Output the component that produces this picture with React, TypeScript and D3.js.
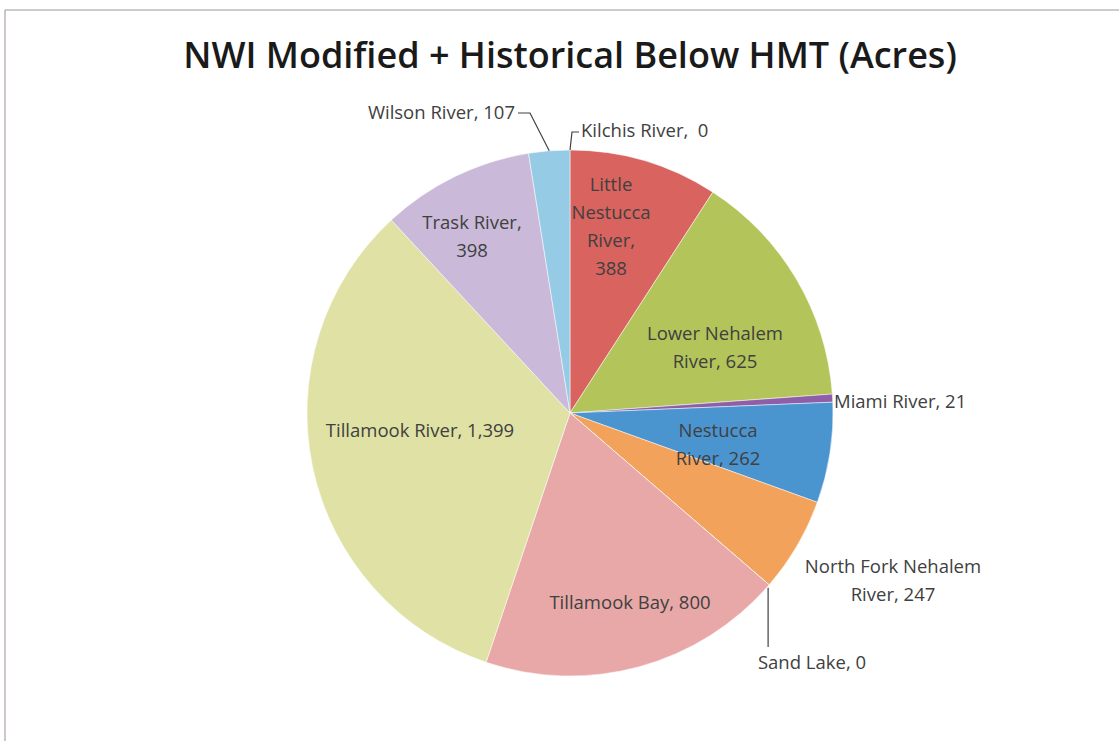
import React from "react";
import * as d3 from "d3";

const categories = [
  "Kilchis River",
  "Little Nestucca River",
  "Lower Nehalem River",
  "Miami River",
  "Nestucca River",
  "North Fork Nehalem River",
  "Sand Lake",
  "Tillamook Bay",
  "Tillamook River",
  "Trask River",
  "Wilson River",
];
const values = [0, 388, 625, 21, 262, 247, 0, 800, 1399, 398, 107];
const labelTexts = [
  ["Kilchis River,  0"],
  ["Little", "Nestucca", "River,", "388"],
  ["Lower Nehalem", "River, 625"],
  ["Miami River, 21"],
  ["Nestucca", "River, 262"],
  ["North Fork Nehalem", "River, 247"],
  ["Sand Lake, 0"],
  ["Tillamook Bay, 800"],
  ["Tillamook River, 1,399"],
  ["Trask River,", "398"],
  ["Wilson River, 107"],
];

const colors = [
  "#4f81bd",
  "#d9635e",
  "#b3c45a",
  "#8e5fa8",
  "#4a94d0",
  "#f2a25a",
  "#7fa6d6",
  "#e8a8a7",
  "#dfe2a4",
  "#cab9d9",
  "#96cbe5",
];

// label anchor positions (x, y of first line baseline), anchor
const labelLayout: { x: number; y: number; anchor: string }[] = [
  { x: 581, y: 137, anchor: "start" },
  { x: 611, y: 191, anchor: "middle" },
  { x: 715, y: 340, anchor: "middle" },
  { x: 834, y: 408, anchor: "start" },
  { x: 718, y: 437, anchor: "middle" },
  { x: 893, y: 573, anchor: "middle" },
  { x: 812, y: 669, anchor: "middle" },
  { x: 630, y: 609, anchor: "middle" },
  { x: 420, y: 437, anchor: "middle" },
  { x: 472, y: 229, anchor: "middle" },
  { x: 515, y: 119, anchor: "end" },
];

export default function App() {
  const W = 1119;
  const H = 741;
  const cx = 570;
  const cy = 413;
  const r = 263;
  const pie = d3
    .pie<number>()
    .sort(null)
    .value((d) => d)(values);
  const arc = d3.arc<d3.PieArcDatum<number>>().innerRadius(0).outerRadius(r);
  const font = "Open Sans, Noto Sans, sans-serif";
  const lineH = 28;

  const edge = (a: number) => [cx + r * Math.sin(a), cy - r * Math.cos(a)];
  const wil = pie[10];
  const wilPt = edge((wil.startAngle + wil.endAngle) / 2);
  const kilPt = edge(pie[0].startAngle);
  const sandPt = edge(pie[6].startAngle);

  return (
    <svg width={W} height={H} style={{ position: "absolute", left: 0, top: 0, background: "#fff" }}>
      <rect x={0} y={0} width={W} height={H} fill="#fff" />
      <line x1={5} y1={10} x2={W} y2={10} stroke="#9a9a9a" strokeWidth={1.2} />
      <line x1={5} y1={10} x2={5} y2={H} stroke="#b0a0a8" strokeWidth={1.2} />
      <text
        x={570}
        y={68}
        textAnchor="middle"
        fontFamily={font}
        fontWeight={600}
        fontSize={36}
        fill="#1a1a1a"
      >
        NWI Modified + Historical Below HMT (Acres)
      </text>
      <g transform={`translate(${cx},${cy})`}>
        {pie.map((p, i) => (
          <path key={categories[i]} d={arc(p) || ""} fill={colors[i]} stroke="#fff" strokeWidth={0.5} />
        ))}
      </g>
      {/* leader lines */}
      <polyline
        points={`518,113 530,113 ${wilPt[0]},${wilPt[1]}`}
        fill="none"
        stroke="#404040"
        strokeWidth={1.2}
      />
      <polyline
        points={`${kilPt[0]},${kilPt[1]} 572,132 579,132`}
        fill="none"
        stroke="#404040"
        strokeWidth={1.2}
      />
      <polyline
        points={`${sandPt[0] - 1},${sandPt[1] + 3} ${sandPt[0] - 1},647`}
        fill="none"
        stroke="#404040"
        strokeWidth={1.2}
      />
      {labelTexts.map((lines, i) => (
        <text
          key={categories[i]}
          x={labelLayout[i].x}
          y={labelLayout[i].y}
          textAnchor={labelLayout[i].anchor}
          fontFamily={font}
          fontSize={18.5}
          fill="#404040"
          style={{ whiteSpace: "pre" }}
        >
          {lines.map((l, j) => (
            <tspan key={j} x={labelLayout[i].x} dy={j === 0 ? 0 : lineH}>
              {l}
            </tspan>
          ))}
        </text>
      ))}
    </svg>
  );
}
